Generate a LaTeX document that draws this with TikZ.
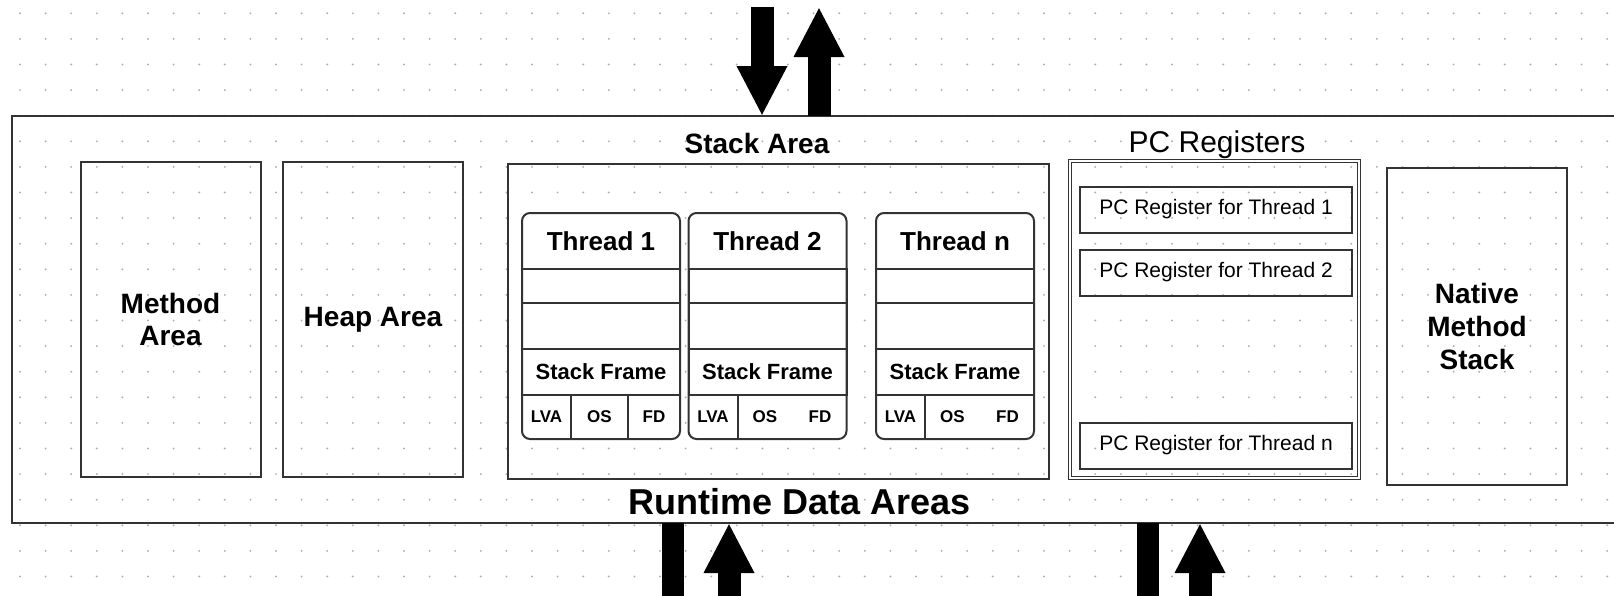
\documentclass[tikz,border=0pt]{standalone}
\usepackage{fontspec}
\setmainfont{Liberation Sans}
\usetikzlibrary{positioning,arrows.meta}

\begin{document}
\begin{tikzpicture}[x=1pt,y=-1pt,
	box/.style={draw=black!80,line width=2pt,outer sep=0pt},
	areabox/.style={box,minimum width=180pt,minimum height=315pt,align=center,font=\fontsize{28}{32}\selectfont\bfseries},
	threadbox/.style={box,fill=white,rounded corners=8pt,minimum width=158pt,minimum height=226pt},
	threadhead/.style={minimum width=158pt,minimum height=56pt,inner sep=0pt,outer sep=0pt,font=\fontsize{26}{30}\selectfont\bfseries},
	slotbox/.style={box,minimum width=158pt,inner sep=0pt,font=\fontsize{22}{26}\selectfont\bfseries},
	cellnode/.style={minimum height=44pt,inner sep=0pt,outer sep=0pt,font=\fontsize{17}{20}\selectfont\bfseries},
	regbox/.style={box,minimum width=272pt,minimum height=46pt,font=\fontsize{21}{24}\selectfont},
	bigarrow/.style={line width=23pt,-{Triangle[width=47pt,length=50pt]}}]
	\useasboundingbox (0,0) rectangle (1614,595);
	\clip (0,0) rectangle (1614,595);
	
	% dotted grid of the drawing tool
	\foreach \i in {0,...,62}
		\foreach \j in {0,...,22}
			\fill[black!30] (20+25.6*\i,13.3+25.6*\j) circle (1.1pt);
	
	\node [box,minimum width=1628pt,minimum height=407pt] (rda) at (826,319.5) {};
	\node [font=\fontsize{36}{40}\selectfont\bfseries] (rdalabel) at (800,502) {Runtime Data Areas};
	
	\node [areabox] (method) at (170.5,319.5) {Method\\Area};
	\node [areabox] (heap) at (373,319.5) {Heap Area};
	
	% stack area with the threads
	\node [font=\fontsize{28}{32}\selectfont\bfseries] (stacklabel) at (757,143) {Stack Area};
	\node [box,minimum width=541pt,minimum height=315pt] (stack) at (778.5,321.5) {};
	
	\node [threadbox] (t1) at (601,326) {};
	\node [threadhead,anchor=north] (t1h) at (t1.north) {Thread 1};
	\node [slotbox,minimum height=34pt,below=0pt of t1h] (t1s1) {};
	\node [slotbox,minimum height=46pt,below=0pt of t1s1] (t1s2) {};
	\node [slotbox,minimum height=46pt,below=0pt of t1s2] (t1f) {Stack Frame};
	\node [cellnode,minimum width=49pt,anchor=north west] (t1lva) at (t1f.south west) {LVA};
	\node [cellnode,minimum width=57pt,right=0pt of t1lva] (t1os) {OS};
	\node [cellnode,minimum width=52pt,right=0pt of t1os] (t1fd) {FD};
	\draw [box] (t1lva.north east) -- (t1lva.south east) (t1os.north east) -- (t1os.south east);
	
	\node [threadbox] (t2) at (767.5,326) {};
	\node [threadhead,anchor=north] (t2h) at (t2.north) {Thread 2};
	\node [slotbox,minimum height=34pt,below=0pt of t2h] (t2s1) {};
	\node [slotbox,minimum height=46pt,below=0pt of t2s1] (t2s2) {};
	\node [slotbox,minimum height=46pt,below=0pt of t2s2] (t2f) {Stack Frame};
	\node [cellnode,minimum width=49pt,anchor=north west] (t2lva) at (t2f.south west) {LVA};
	\node [cellnode,minimum width=55pt,right=0pt of t2lva] (t2os) {OS};
	\node [cellnode,minimum width=55pt,right=0pt of t2os] (t2fd) {FD};
	\draw [box] (t2lva.north east) -- (t2lva.south east);
	
	\node [threadbox] (tn) at (955,326) {};
	\node [threadhead,anchor=north] (tnh) at (tn.north) {Thread n};
	\node [slotbox,minimum height=34pt,below=0pt of tnh] (tns1) {};
	\node [slotbox,minimum height=46pt,below=0pt of tns1] (tns2) {};
	\node [slotbox,minimum height=46pt,below=0pt of tns2] (tnf) {Stack Frame};
	\node [cellnode,minimum width=49pt,anchor=north west] (tnlva) at (tnf.south west) {LVA};
	\node [cellnode,minimum width=55pt,right=0pt of tnlva] (tnos) {OS};
	\node [cellnode,minimum width=55pt,right=0pt of tnos] (tnfd) {FD};
	\draw [box] (tnlva.north east) -- (tnlva.south east);
	
	% pc registers
	\node [font=\fontsize{30}{34}\selectfont] (pclabel) at (1217,145) {PC Registers};
	\node [box,double,double distance=1.2pt,line width=1.6pt,minimum width=289pt,minimum height=317pt] (pcregs) at (1214.5,319.5) {};
	\node [regbox] (reg1) at (1216,209.5) {PC Register for Thread 1};
	\node [regbox,below=17pt of reg1] (reg2) {PC Register for Thread 2};
	\node [regbox] (regn) at (1216,445.5) {PC Register for Thread n};
	
	\node [areabox,minimum height=317pt,font=\fontsize{28}{33}\selectfont\bfseries] (native) at (1477,326.5) {Native\\Method\\Stack};
	
	% arrows in and out
	\coordinate (topin) at (762,7);
	\coordinate (topout) at (819,7);
	\coordinate (botout1) at (673,600);
	\coordinate (botin1) at (729,600);
	\coordinate (botout2) at (1148,600);
	\coordinate (botin2) at (1200,600);
	\draw [bigarrow] (topin) -- (topin |- rda.north);
	\draw [bigarrow] (rda.north -| topout) -- (topout);
	\draw [line width=22pt] (rda.south -| botout1) -- (botout1);
	\draw [bigarrow] (botin1) -- (botin1 |- rda.south);
	\draw [line width=22pt] (rda.south -| botout2) -- (botout2);
	\draw [bigarrow] (botin2) -- (botin2 |- rda.south);
	
\end{tikzpicture}
\end{document}
